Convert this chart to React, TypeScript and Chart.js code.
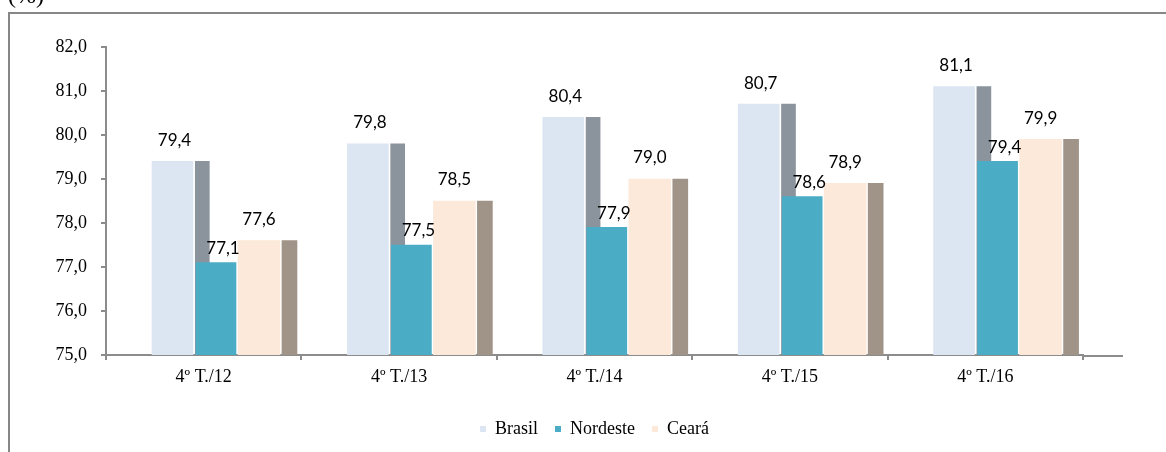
import React, { useEffect, useRef } from "react";
import { Chart, registerables } from "chart.js";

Chart.register(...registerables);

// ---- data ----
const categories = ["4º T./12", "4º T./13", "4º T./14", "4º T./15", "4º T./16"];
const seriesNames = ["Brasil", "Nordeste", "Ceará"];
const brasil = [79.4, 79.8, 80.4, 80.7, 81.1];
const nordeste = [77.1, 77.5, 77.9, 78.6, 79.4];
const ceara = [77.6, 78.5, 79.0, 78.9, 79.9];
const yTicks = [75, 76, 77, 78, 79, 80, 81, 82];
const unitLabel = "(%)";

// ---- style ----
const SERIF = "'Liberation Serif', 'Times New Roman', serif";
const SANS = "Lato, 'Liberation Sans', sans-serif";
const AXIS = "#8c8c8c";
const COLORS = {
  brasilFace: "#dce6f2",
  brasilSide: "#8b939c",
  nordesteFace: "#4bacc6",
  cearaFace: "#fde9d9",
  cearaSide: "#a09388",
};
// bar centre inside a category (fraction of the category) and pixel width
const GEO = {
  brasilFace: { at: 0.3403, w: 41 },
  brasilSide: { at: 0.4928, w: 14 },
  nordesteFace: { at: 0.5629, w: 40 },
  cearaFace: { at: 0.783, w: 42 },
  cearaSide: { at: 0.939, w: 15 },
};

const fmt = (v: number) => v.toFixed(1).replace(".", ",");
const pts = (vals: number[], at: number) => vals.map((v, i) => ({ x: i + at, y: v }));

const framePlugin = {
  id: "frame",
  beforeDraw(chart: any) {
    const ctx = chart.ctx;
    ctx.save();
    ctx.strokeStyle = "#878787";
    ctx.lineWidth = 2;
    ctx.beginPath();
    ctx.moveTo(9, chart.height + 10);
    ctx.lineTo(9, 13);
    ctx.lineTo(chart.width + 10, 13);
    ctx.stroke();
    ctx.fillStyle = "#000";
    ctx.font = `24px ${SERIF}`;
    ctx.textAlign = "left";
    ctx.textBaseline = "alphabetic";
    ctx.fillText(unitLabel, 8, 3);
    ctx.restore();
  },
  afterDraw(chart: any) {
    const ctx = chart.ctx;
    const area = chart.chartArea;
    ctx.save();
    ctx.strokeStyle = AXIS;
    ctx.lineWidth = 2;
    ctx.beginPath();
    ctx.moveTo(area.right, area.bottom + 1);
    ctx.lineTo(area.right + 40, area.bottom + 1);
    ctx.stroke();
    ctx.restore();
  },
};

const valueLabelPlugin = {
  id: "valueLabels",
  afterDatasetsDraw(chart: any) {
    const ctx = chart.ctx;
    ctx.save();
    ctx.fillStyle = "#000";
    ctx.font = `17px ${SANS}`;
    ctx.textAlign = "center";
    ctx.textBaseline = "middle";
    chart.data.datasets.forEach((ds: any, di: number) => {
      const cfg = ds.valueLabel;
      if (!cfg) return;
      const meta = chart.getDatasetMeta(di);
      meta.data.forEach((bar: any, i: number) => {
        ctx.fillText(fmt(ds.data[i].y), bar.x + cfg.dx, bar.y - cfg.dy);
      });
    });
    ctx.restore();
  },
};

export default function App() {
  const ref = useRef<HTMLCanvasElement | null>(null);

  useEffect(() => {
    if (!ref.current) return;
    const barBase = (label: string, data: any, color: string, w: number, order: number) => ({
      label,
      data,
      backgroundColor: color,
      borderWidth: 0,
      barThickness: w,
      grouped: false,
      xAxisID: "xb",
      yAxisID: "y",
      order,
    });
    const chart = new Chart(ref.current, {
      type: "bar",
      data: {
        labels: categories,
        datasets: [
          { ...barBase(seriesNames[0], pts(brasil, GEO.brasilFace.at), COLORS.brasilFace, GEO.brasilFace.w, 1), valueLabel: { dx: 2, dy: 21 } },
          { ...barBase(seriesNames[1], pts(nordeste, GEO.nordesteFace.at), COLORS.nordesteFace, GEO.nordesteFace.w, 0), valueLabel: { dx: 7, dy: 14 } },
          { ...barBase(seriesNames[2], pts(ceara, GEO.cearaFace.at), COLORS.cearaFace, GEO.cearaFace.w, 1), valueLabel: { dx: 0, dy: 21 } },
          barBase(seriesNames[0] + " ", pts(brasil, GEO.brasilSide.at), COLORS.brasilSide, GEO.brasilSide.w, 1),
          barBase(seriesNames[2] + " ", pts(ceara, GEO.cearaSide.at), COLORS.cearaSide, GEO.cearaSide.w, 1),
        ] as any,
      },
      options: {
        responsive: false,
        maintainAspectRatio: false,
        animation: false,
        devicePixelRatio: 1,
        layout: { padding: { left: 0, right: 83, top: 47, bottom: 4 } },
        scales: {
          x: {
            type: "category",
            labels: categories,
            offset: true,
            position: "bottom",
            grid: { offset: true, drawOnChartArea: false, drawTicks: true, tickLength: 5, color: AXIS, lineWidth: 2 },
            border: { display: true, color: AXIS, width: 2 },
            ticks: {
              padding: 6,
              color: "#000",
              autoSkip: false,
              maxRotation: 0,
              font: { family: SERIF, size: 18 },
            },
            afterFit: (s: any) => {
              s.height = 48;
            },
          },
          xb: {
            type: "linear",
            display: false,
            offset: false,
            min: 0,
            max: categories.length,
            grid: { offset: false },
          },
          y: {
            type: "linear",
            min: yTicks[0],
            max: yTicks[yTicks.length - 1],
            afterBuildTicks: (s: any) => {
              s.ticks = yTicks.map((v) => ({ value: v }));
            },
            grid: { drawOnChartArea: false, drawTicks: true, tickLength: 5, color: AXIS, lineWidth: 2 },
            border: { display: true, color: AXIS, width: 2 },
            ticks: {
              padding: 14,
              color: "#000",
              font: { family: SERIF, size: 18 },
              callback: (v: any) => fmt(Number(v)),
            },
            afterFit: (s: any) => {
              s.width = 106;
            },
          },
        } as any,
        plugins: {
          tooltip: { enabled: false },
          title: { display: false },
          legend: {
            display: true,
            position: "bottom",
            fullSize: false,
            labels: {
              boxWidth: 6,
              boxHeight: 6,
              padding: 17,
              color: "#000",
              font: { family: SERIF, size: 18 },
              filter: (item: any) => item.datasetIndex < 3,
              sort: (a: any, b: any) => a.datasetIndex - b.datasetIndex,
            },
          },
        },
      } as any,
      plugins: [framePlugin, valueLabelPlugin],
    });
    return () => chart.destroy();
  }, []);

  return (
    <div
      style={{
        position: "fixed",
        left: 0,
        top: 0,
        width: 1166,
        height: 452,
        overflow: "hidden",
        background: "#fff",
      }}
    >
      <canvas ref={ref} width={1166} height={452} style={{ display: "block", width: "1166px", height: "452px" }} />
    </div>
  );
}
